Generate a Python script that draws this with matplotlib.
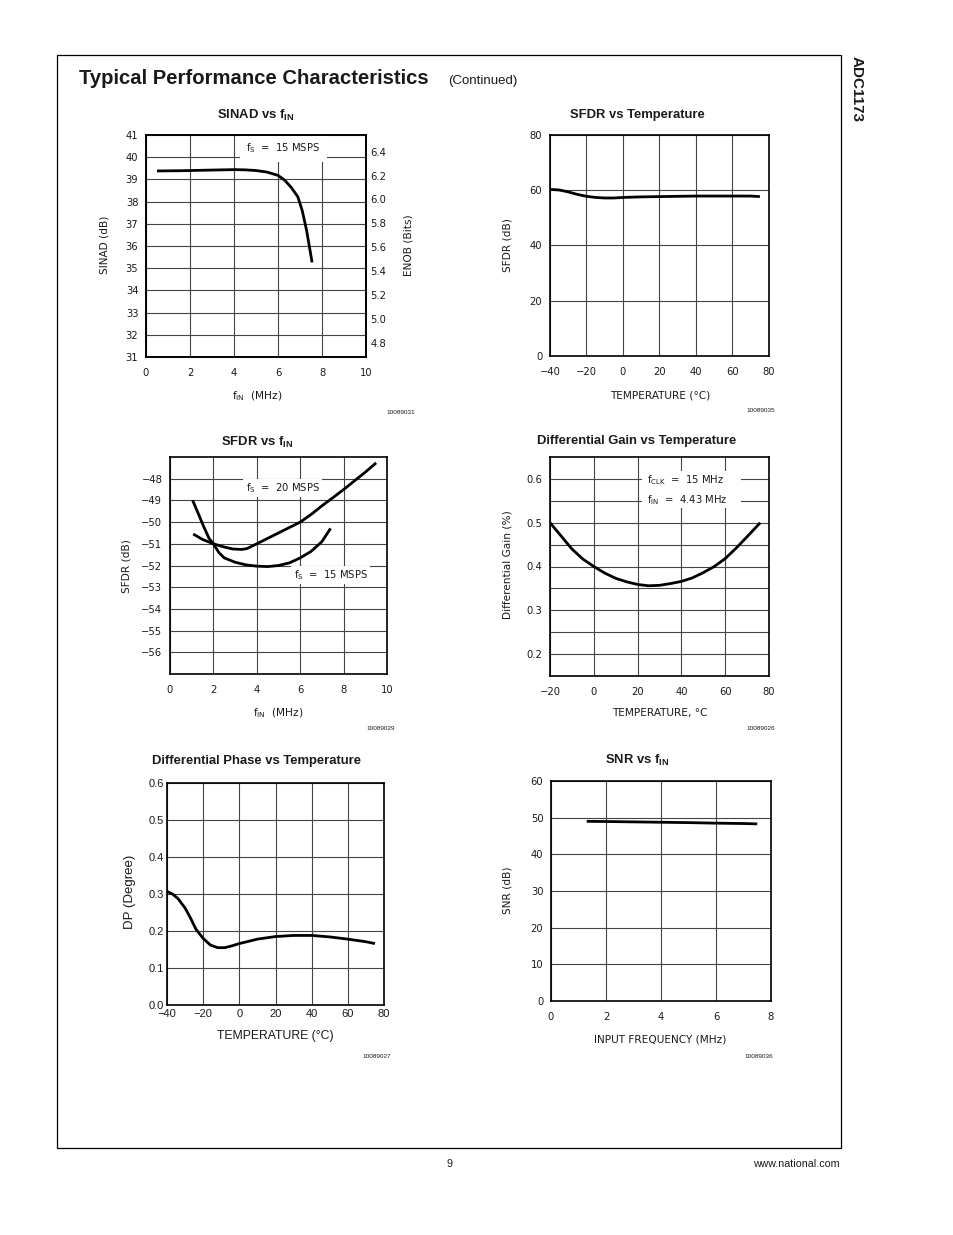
import matplotlib.pyplot as plt
from matplotlib.patches import Rectangle

W, H = 954, 1235

# SINAD vs fIN, fs = 15 MSPS
sinad_fin = [0.5, 1.5, 2.5, 3.5, 4.0, 4.5, 5.0, 5.5, 6.0, 6.3, 6.6, 6.9, 7.1, 7.3, 7.55]
sinad_db = [39.38, 39.39, 39.41, 39.43, 39.44, 39.43, 39.4, 39.33, 39.18, 38.97, 38.64, 38.22, 37.6, 36.7, 35.26]
enob_ticks = [4.8, 5.0, 5.2, 5.4, 5.6, 5.8, 6.0, 6.2, 6.4]

# SFDR vs temperature
sfdr_temp = [-40, -35, -30, -25, -20, -15, -10, -5, 0, 10, 20, 30, 40, 50, 60, 70, 75]
sfdr_temp_db = [60.3, 60.1, 59.4, 58.5, 57.8, 57.4, 57.2, 57.2, 57.4, 57.6, 57.7, 57.8, 57.9, 57.9, 57.9, 57.9, 57.7]

# SFDR vs fIN, two sample rates
sfdr_f20 = [1.07, 1.5, 2.0, 2.5, 2.9, 3.3, 3.55, 4.0, 4.5, 5.0, 5.5, 6.0, 6.5, 7.0, 7.5, 8.0, 8.5, 9.0, 9.5]
sfdr_db20 = [-50.55, -50.8, -51.0, -51.15, -51.24, -51.26, -51.22, -51.0, -50.75, -50.5, -50.25, -50.0,
             -49.65, -49.25, -48.88, -48.5, -48.1, -47.7, -47.27]
sfdr_f15 = [1.04, 1.3, 1.55, 1.8, 2.0, 2.25, 2.5, 3.0, 3.5, 4.0, 4.5, 5.0, 5.5, 6.0, 6.5, 7.0, 7.4]
sfdr_db15 = [-48.99, -49.6, -50.2, -50.75, -51.0, -51.4, -51.65, -51.85, -51.97, -52.03, -52.05, -52.0,
             -51.88, -51.65, -51.35, -50.9, -50.29]

# differential gain vs temperature
dg_temp = [-20, -15, -10, -5, 0, 5, 10, 15, 20, 25, 30, 35, 40, 45, 50, 55, 60, 65, 70, 76]
dg_pct = [0.5, 0.47, 0.44, 0.417, 0.4, 0.385, 0.373, 0.365, 0.359, 0.356, 0.357, 0.361, 0.366, 0.374,
          0.386, 0.4, 0.418, 0.442, 0.468, 0.5]

# differential phase vs temperature
dp_temp = [-40, -37, -34, -30, -27, -24, -20, -16, -12, -8, -4, 0, 5, 10, 20, 30, 40, 50, 60, 70, 75]
dp_deg = [0.307, 0.3, 0.288, 0.262, 0.235, 0.205, 0.18, 0.162, 0.155, 0.155, 0.16, 0.166, 0.172, 0.178,
          0.185, 0.188, 0.188, 0.184, 0.178, 0.171, 0.166]

# SNR vs input frequency
snr_f = [1.3, 2, 3, 4, 5, 6, 7, 7.5]
snr_db = [49.0, 48.95, 48.85, 48.75, 48.65, 48.5, 48.4, 48.3]

plt.rcParams['font.family'] = ['DejaVu Sans']
plt.rcParams['mathtext.default'] = 'regular'
plt.rcParams['text.color'] = '#1a1a1a'
plt.rcParams['xtick.color'] = '#1a1a1a'
plt.rcParams['ytick.color'] = '#1a1a1a'

fig = plt.figure(figsize=(W / 100, H / 100), dpi=100)


def px_axes(left, top, right, bottom):
    return fig.add_axes([left / W, 1 - bottom / H, (right - left) / W, (bottom - top) / H])


def px_text(x, y, s, **kw):
    kw.setdefault('ha', 'center')
    kw.setdefault('va', 'center')
    return fig.text(x / W, 1 - y / H, s, **kw)


def style(ax, size=7.2, xpad=8, ypad=5.5, family=None):
    ax.set_axisbelow(True)
    ax.grid(True, which='both', color='#444444', lw=0.8)
    ax.tick_params(which='both', length=0, labelsize=size)
    ax.tick_params(axis='x', pad=xpad)
    ax.tick_params(axis='y', pad=ypad)
    for sp in ax.spines.values():
        sp.set_linewidth(1.2)
    if family:
        for lab in ax.get_xticklabels() + ax.get_yticklabels():
            lab.set_family(family)


def curve(ax, x, y):
    ax.plot(x, y, color='black', lw=2.0, solid_capstyle='butt', zorder=2)


title_kw = dict(fontsize=9.4, fontweight='bold', family='Liberation Sans')
label_kw = dict(fontsize=7.6)
id_kw = dict(fontsize=4.6, family='Liberation Sans', ha='right')

# page frame and header
fig.add_artist(Rectangle((57 / W, 1 - 1148 / H), (841 - 57) / W, (1148 - 55) / H,
                         transform=fig.transFigure, fill=False, ec='black', lw=0.9))
px_text(79, 84, 'Typical Performance Characteristics', ha='left', va='baseline',
        fontsize=14.6, fontweight='bold', family='Liberation Sans')
px_text(448, 84, '(Continued)', ha='left', va='baseline', fontsize=9.5, family='Liberation Sans')
px_text(857, 56, 'ADC1173', rotation=-90, ha='center', va='top', fontsize=11,
        fontweight='bold', family='Liberation Sans')
px_text(450, 1164, '9', fontsize=7.7, family='Liberation Sans')
px_text(840, 1164, 'www.national.com', ha='right', fontsize=7.7, family='Liberation Sans')

# 1: SINAD vs fIN
ax1 = px_axes(146, 135, 366, 357)
curve(ax1, sinad_fin, sinad_db)
ax1.set_xlim(0, 10)
ax1.set_ylim(31, 41)
ax1.set_xticks(range(0, 11, 2))
ax1.set_yticks(range(31, 42))
style(ax1)
ax1.add_patch(Rectangle((0.427, 0.878), 0.396, 0.118, transform=ax1.transAxes,
                        fc='white', ec='none', zorder=1))
ax1.text(0.623, 0.941, 'f$_S$  =  15 MSPS', transform=ax1.transAxes, ha='center', va='center',
         fontsize=7.2, zorder=1.5)
ax1r = ax1.twinx()
ax1r.set_ylim(4.683, 6.539)
ax1r.set_yticks(enob_ticks)
ax1r.set_yticklabels(['%.1f' % v for v in enob_ticks])
ax1r.tick_params(length=0, labelsize=7.2, pad=3)
for sp in ax1r.spines.values():
    sp.set_linewidth(1.2)
px_text(256, 115, 'SINAD vs f$_{IN}$', **title_kw)
px_text(105, 245, 'SINAD (dB)', rotation=90, **label_kw)
px_text(409, 245, 'ENOB (Bits)', rotation=90, **label_kw)
px_text(257, 396, 'f$_{IN}$  (MHz)', **label_kw)
px_text(415, 413, '10089031', **id_kw)

# 2: SFDR vs temperature
ax2 = px_axes(550, 135, 769, 356)
curve(ax2, sfdr_temp, sfdr_temp_db)
ax2.set_xlim(-40, 80)
ax2.set_ylim(0, 80)
ax2.set_xticks(range(-40, 81, 20))
ax2.set_yticks(range(0, 81, 20))
style(ax2)
px_text(637, 115, 'SFDR vs Temperature', **title_kw)
px_text(508, 245, 'SFDR (dB)', rotation=90, **label_kw)
px_text(660, 395, 'TEMPERATURE (°C)', **label_kw)
px_text(775, 411, '10089035', **id_kw)

# 3: SFDR vs fIN
ax3 = px_axes(170, 457, 387, 674)
curve(ax3, sfdr_f20, sfdr_db20)
curve(ax3, sfdr_f15, sfdr_db15)
ax3.set_xlim(0, 10)
ax3.set_ylim(-57, -47)
ax3.set_xticks(range(0, 11, 2))
ax3.set_yticks(range(-56, -47))
style(ax3)
box = dict(fc='white', ec='none', pad=1.5)
ax3.text(0.519, 0.856, 'f$_S$  =  20 MSPS', transform=ax3.transAxes, ha='center', va='center',
         fontsize=7.2, bbox=box, zorder=1.5)
ax3.text(0.74, 0.456, 'f$_S$  =  15 MSPS', transform=ax3.transAxes, ha='center', va='center',
         fontsize=7.2, bbox=box, zorder=1.5)
px_text(257, 442, 'SFDR vs f$_{IN}$', **title_kw)
px_text(127, 566, 'SFDR (dB)', rotation=90, **label_kw)
px_text(278, 713, 'f$_{IN}$  (MHz)', **label_kw)
px_text(395, 729, '10089029', **id_kw)

# 4: differential gain vs temperature
ax4 = px_axes(550, 457, 769, 676)
curve(ax4, dg_temp, dg_pct)
ax4.set_xlim(-20, 80)
ax4.set_ylim(0.15, 0.65)
ax4.set_xticks(range(-20, 81, 20))
ax4.set_yticks([0.2, 0.3, 0.4, 0.5, 0.6])
ax4.set_yticklabels(['0.2', '0.3', '0.4', '0.5', '0.6'])
ax4.set_yticks([0.25, 0.35, 0.45, 0.55], minor=True)
style(ax4)
ax4.add_patch(Rectangle((0.42, 0.767), 0.45, 0.17, transform=ax4.transAxes,
                        fc='white', ec='none', zorder=1))
ax4.text(0.443, 0.895, 'f$_{CLK}$  =  15 MHz', transform=ax4.transAxes, ha='left', va='center',
         fontsize=7.2, zorder=1.5)
ax4.text(0.443, 0.804, 'f$_{IN}$  =  4.43 MHz', transform=ax4.transAxes, ha='left', va='center',
         fontsize=7.2, zorder=1.5)
px_text(637, 441, 'Differential Gain vs Temperature', **title_kw)
px_text(508, 565, 'Differential Gain (%)', rotation=90, **label_kw)
px_text(660, 713, 'TEMPERATURE, °C', **label_kw)
px_text(775, 729, '10089026', **id_kw)

# 5: differential phase vs temperature
ax5 = px_axes(167, 783, 384, 1005)
curve(ax5, dp_temp, dp_deg)
ax5.set_xlim(-40, 80)
ax5.set_ylim(0, 0.6)
ax5.set_xticks(range(-40, 81, 20))
ax5.set_yticks([0, 0.1, 0.2, 0.3, 0.4, 0.5, 0.6])
ax5.set_yticklabels(['0.0', '0.1', '0.2', '0.3', '0.4', '0.5', '0.6'])
style(ax5, size=8, xpad=3, ypad=2.5, family='Liberation Sans')
px_text(257, 761, 'Differential Phase vs Temperature', **title_kw)
px_text(130, 892, 'DP (Degree)', rotation=90, fontsize=9.5, family='Liberation Sans')
px_text(275, 1036, 'TEMPERATURE (°C)', fontsize=8.8, family='Liberation Sans')
px_text(391, 1057, '10089027', **id_kw)

# 6: SNR vs fIN
ax6 = px_axes(551, 781, 771, 1001)
curve(ax6, snr_f, snr_db)
ax6.set_xlim(0, 8)
ax6.set_ylim(0, 60)
ax6.set_xticks(range(0, 9, 2))
ax6.set_yticks(range(0, 61, 10))
style(ax6)
px_text(637, 760, 'SNR vs f$_{IN}$', **title_kw)
px_text(508, 890, 'SNR (dB)', rotation=90, **label_kw)
px_text(660, 1040, 'INPUT FREQUENCY (MHz)', **label_kw)
px_text(773, 1056, '10089036', **id_kw)

fig.savefig('out.png', dpi=100)
